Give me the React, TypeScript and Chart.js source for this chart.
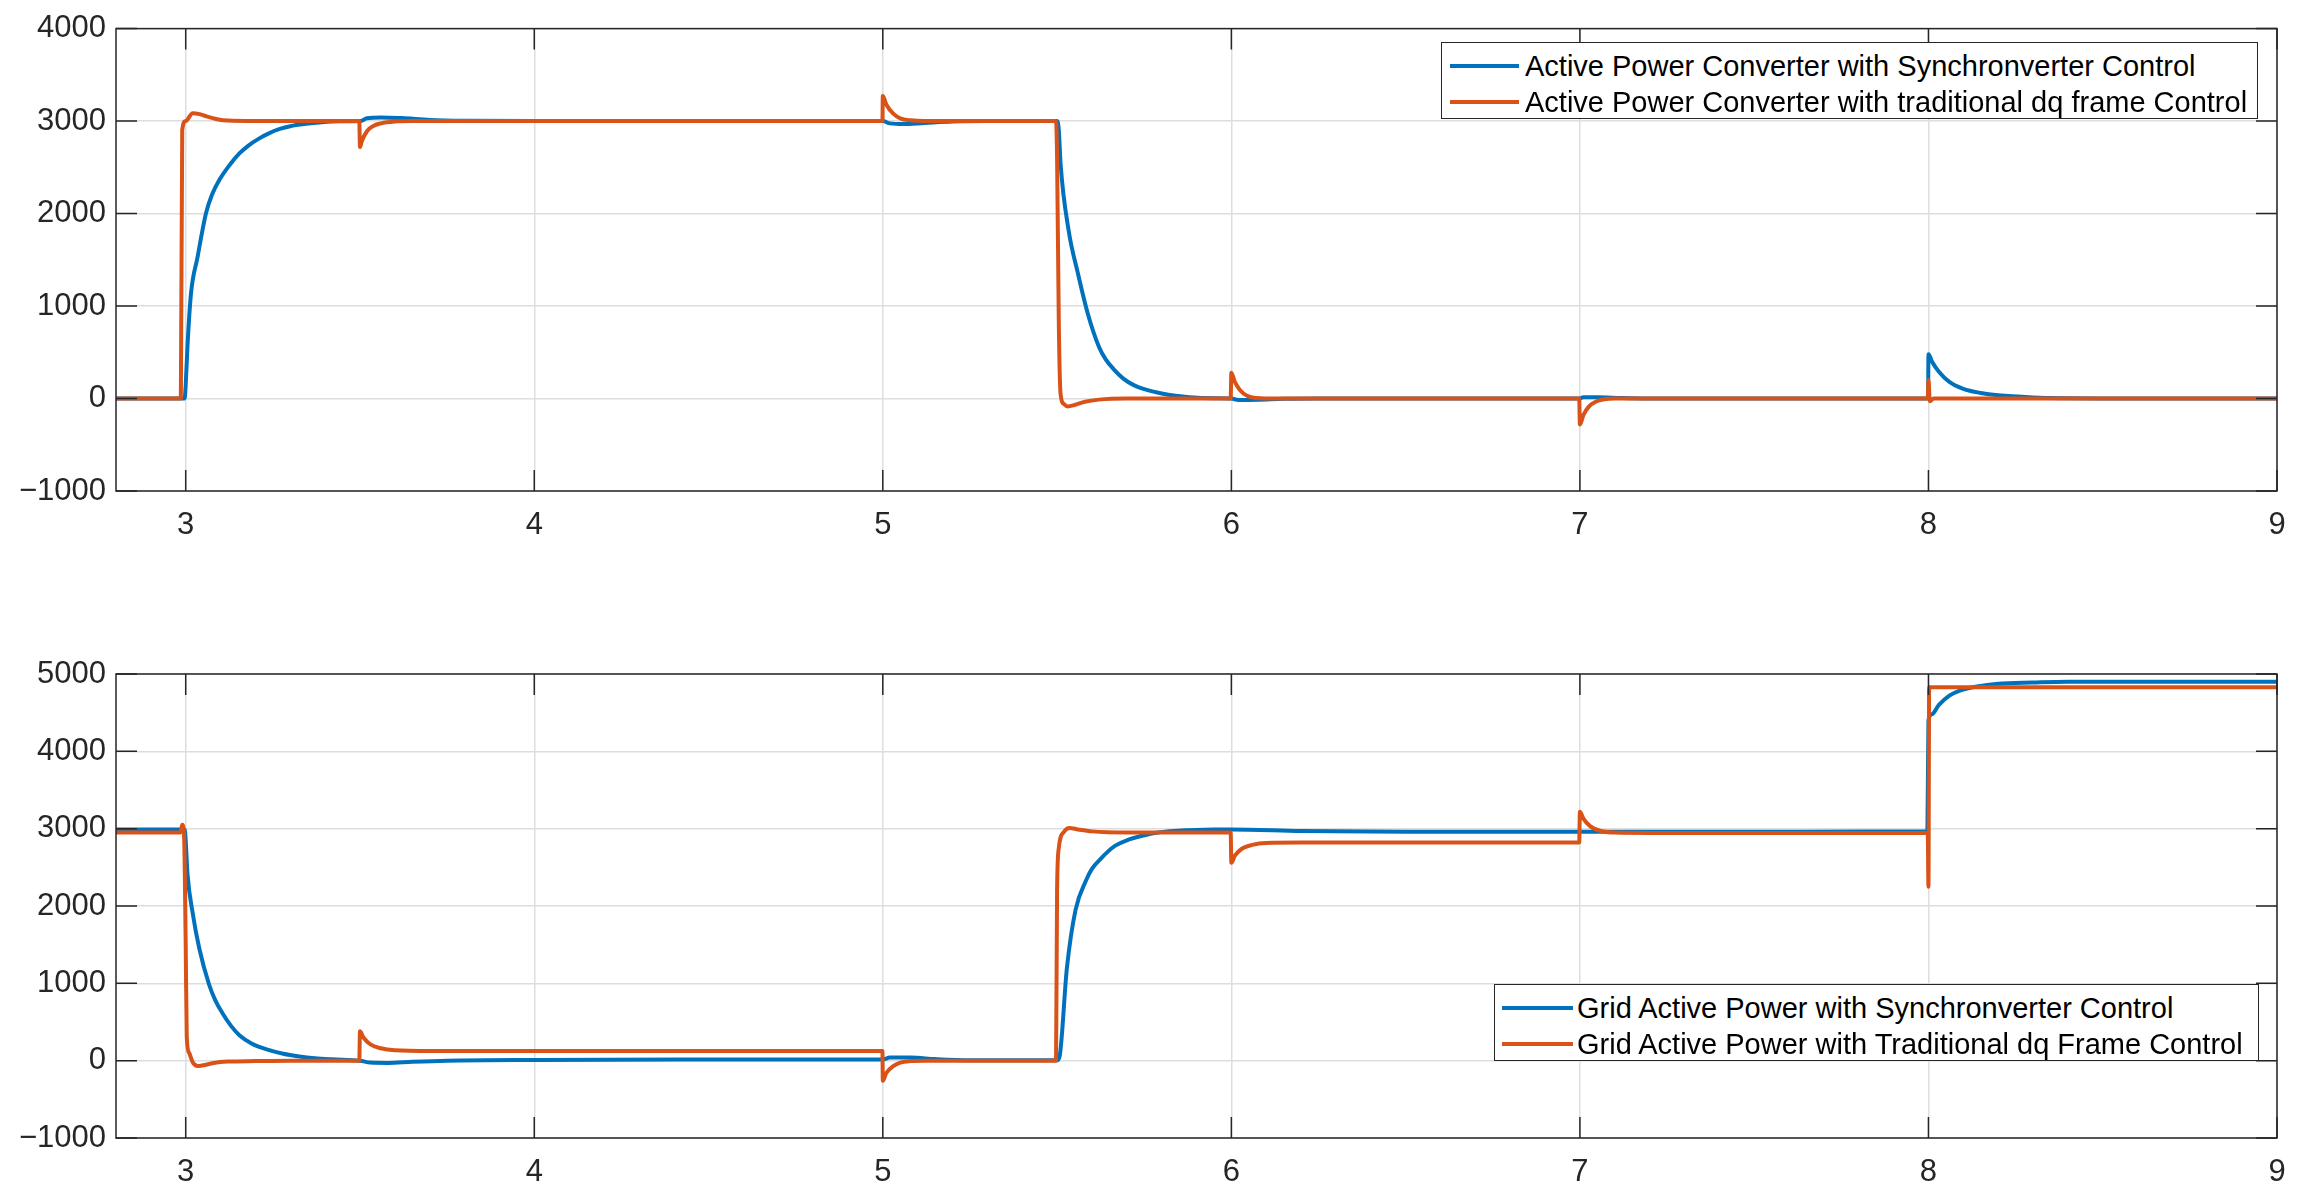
import React, { useEffect, useRef } from 'react';
import { Chart, registerables } from 'chart.js';

Chart.register(...registerables);

// ---------- data ----------
const xTicks = [3, 4, 5, 6, 7, 8, 9];
const topYTicks = [-1000, 0, 1000, 2000, 3000, 4000];
const bottomYTicks = [-1000, 0, 1000, 2000, 3000, 4000, 5000];

const topLabels = [
  'Active Power Converter with Synchronverter Control',
  'Active Power Converter with traditional dq frame Control',
];
const bottomLabels = [
  'Grid Active Power with Synchronverter Control',
  'Grid Active Power with Traditional dq Frame Control',
];

const seriesColors = ['#0072BD', '#D95319'];

// time [s], power [W]
const converterSync: [number, number][] = [
  [2.8, 0], [2.997, 0], [3.0, 150], [3.005, 560], [3.015, 1130], [3.034, 1530], [3.058, 2000],
  [3.075, 2200], [3.096, 2360], [3.125, 2520], [3.154, 2650], [3.18, 2735], [3.21, 2810],
  [3.24, 2870], [3.27, 2915], [3.3, 2945], [3.345, 2970], [3.39, 2987], [3.44, 2997], [3.5, 3000],
  [3.52, 3030], [3.56, 3040], [3.62, 3032], [3.7, 3012], [3.8, 3003], [4.0, 3000], [5.0, 3000],
  [5.02, 2975], [5.06, 2968], [5.12, 2980], [5.2, 2995], [5.3, 3000], [5.5, 3000], [5.505, 2900],
  [5.51, 2540], [5.533, 1820], [5.56, 1350], [5.588, 920], [5.62, 560], [5.64, 420], [5.664, 310],
  [5.69, 215], [5.72, 145], [5.76, 90], [5.8, 55], [5.84, 30], [5.88, 14], [5.95, 3], [6.0, 0],
  [6.02, -15], [6.08, -12], [6.15, -3], [6.25, 0], [7.0, 0], [7.01, 15], [7.05, 15], [7.12, 5],
  [7.2, 0], [7.999, 0], [8.0, 480], [8.01, 400], [8.03, 290], [8.06, 180], [8.1, 105], [8.15, 60],
  [8.2, 35], [8.3, 12], [8.4, 3], [8.5, 0], [9.0, 0],
];

const converterDq: [number, number][] = [
  [2.8, 0], [2.986, 0], [2.99, 2900], [3.0, 3000], [3.02, 3085], [3.04, 3075], [3.06, 3050],
  [3.09, 3020], [3.12, 3005], [3.2, 3000], [3.498, 3000], [3.5, 2720], [3.505, 2780], [3.52, 2890],
  [3.54, 2950], [3.56, 2975], [3.6, 2995], [3.65, 3000], [4.999, 3000], [5.0, 3270], [5.01, 3180],
  [5.03, 3080], [5.05, 3030], [5.08, 3008], [5.12, 3000], [5.497, 3000], [5.5, 2600], [5.505, 800],
  [5.51, 50], [5.52, -60], [5.53, -85], [5.55, -70], [5.58, -35], [5.62, -12], [5.7, 0], [5.998, 0],
  [6.0, 280], [6.01, 180], [6.025, 90], [6.045, 30], [6.07, 5], [6.1, 0], [6.998, 0], [7.0, -280],
  [7.01, -180], [7.025, -90], [7.045, -35], [7.07, -8], [7.1, 0], [7.998, 0], [8.0, 200],
  [8.004, -30], [8.015, 0], [9.0, 0],
];

const gridSync: [number, number][] = [
  [2.8, 2990], [2.997, 2990], [3.0, 2850], [3.005, 2420], [3.02, 1910], [3.039, 1450], [3.067, 985],
  [3.085, 780], [3.106, 610], [3.13, 450], [3.154, 330], [3.19, 220], [3.23, 150], [3.28, 90],
  [3.326, 55], [3.37, 32], [3.42, 17], [3.5, 0], [3.53, -25], [3.58, -30], [3.65, -15], [3.75, 0],
  [4.0, 10], [4.5, 15], [5.0, 15], [5.02, 40], [5.08, 40], [5.15, 20], [5.25, 5], [5.5, 5],
  [5.507, 50], [5.528, 1190], [5.553, 1950], [5.583, 2330], [5.6, 2480], [5.625, 2610],
  [5.645, 2700], [5.667, 2780], [5.7, 2850], [5.751, 2915], [5.79, 2950], [5.835, 2970],
  [5.95, 2990], [6.0, 2990], [6.2, 2970], [6.5, 2960], [7.0, 2960], [7.5, 2960], [7.997, 2965],
  [8.0, 4400], [8.01, 4480], [8.03, 4600], [8.06, 4720], [8.09, 4785], [8.14, 4840], [8.2, 4875],
  [8.3, 4890], [8.4, 4900], [9.0, 4900],
];

const gridDq: [number, number][] = [
  [2.8, 2950], [2.985, 2950], [2.99, 3050], [2.995, 2950], [3.0, 1500], [3.003, 300], [3.01, 100],
  [3.02, -20], [3.035, -70], [3.05, -60], [3.08, -30], [3.12, -12], [3.2, -5], [3.3, 0], [3.498, 0],
  [3.5, 380], [3.51, 300], [3.53, 210], [3.56, 160], [3.6, 135], [3.7, 125], [4.999, 125],
  [5.0, -260], [5.01, -160], [5.03, -70], [5.05, -25], [5.08, -5], [5.12, 0], [5.497, 0],
  [5.5, 2200], [5.505, 2750], [5.52, 2960], [5.535, 3010], [5.56, 2990], [5.6, 2965], [5.7, 2950],
  [5.998, 2950], [6.0, 2560], [6.01, 2650], [6.03, 2740], [6.06, 2790], [6.1, 2815], [6.2, 2820],
  [6.998, 2820], [7.0, 3220], [7.01, 3130], [7.03, 3030], [7.06, 2970], [7.1, 2950], [7.2, 2945],
  [7.998, 2945], [8.0, 2250], [8.002, 4830], [9.0, 4830],
];

// ---------- styling ----------
const FONT = '"Liberation Sans", Arial, Helvetica, sans-serif';
const AXIS_COLOR = '#262626';
const TICK_LEN = 21;

const fmt = (v: number) => (v < 0 ? '\u2212' + Math.abs(v) : String(v));

const frameTicks = {
  id: 'frameTicks',
  afterDatasetsDraw(chart: any) {
    const { ctx, chartArea: a, scales } = chart;
    const xs = scales.x;
    const ys = scales.y;
    ctx.save();
    ctx.strokeStyle = AXIS_COLOR;
    ctx.lineWidth = 1.5;
    ctx.beginPath();
    xs.ticks.forEach((t: any) => {
      const p = xs.getPixelForValue(t.value);
      ctx.moveTo(p, a.bottom);
      ctx.lineTo(p, a.bottom - TICK_LEN);
      ctx.moveTo(p, a.top);
      ctx.lineTo(p, a.top + TICK_LEN);
    });
    ys.ticks.forEach((t: any) => {
      const p = ys.getPixelForValue(t.value);
      ctx.moveTo(a.left, p);
      ctx.lineTo(a.left + TICK_LEN, p);
      ctx.moveTo(a.right, p);
      ctx.lineTo(a.right - TICK_LEN, p);
    });
    ctx.stroke();
    ctx.strokeRect(a.left, a.top, a.right - a.left, a.bottom - a.top);
    ctx.restore();
  },
};

type PanelProps = {
  canvasTop: number;
  canvasHeight: number;
  areaTop: number;
  areaBottom: number;
  yMin: number;
  yMax: number;
  yTicks: number[];
  series: [number, number][][];
  labels: string[];
};

function Panel(p: PanelProps) {
  const ref = useRef<HTMLCanvasElement | null>(null);
  useEffect(() => {
    if (!ref.current) return;
    const chart = new Chart(ref.current, {
      type: 'line',
      data: {
        datasets: p.series.map((s, i) => ({
          label: p.labels[i],
          data: s.map(([x, y]) => ({ x, y })),
          borderColor: seriesColors[i],
          backgroundColor: seriesColors[i],
          borderWidth: 4,
          pointRadius: 0,
          cubicInterpolationMode: 'monotone' as const,
          fill: false,
          borderJoinStyle: 'round' as const,
          order: 2 - i,
        })),
      },
      options: {
        animation: false,
        responsive: false,
        devicePixelRatio: 1,
        events: [],
        layout: { padding: { left: 0, right: 2302 - 2277, top: p.areaTop, bottom: 0 } },
        plugins: { legend: { display: false }, tooltip: { enabled: false } },
        scales: {
          x: {
            type: 'linear',
            min: 2.8,
            max: 9,
            afterBuildTicks: (s: any) => {
              s.ticks = xTicks.map((v) => ({ value: v }));
            },
            afterFit: (s: any) => {
              s.height = p.canvasHeight - p.areaBottom;
            },
            grid: { color: '#dedede', lineWidth: 1.5, drawTicks: false },
            border: { display: false },
            ticks: {
              padding: 16,
              maxRotation: 0,
              color: AXIS_COLOR,
              font: { family: FONT, size: 31 },
              callback: (v: any) => fmt(Number(v)),
            },
          },
          y: {
            type: 'linear',
            min: p.yMin,
            max: p.yMax,
            afterBuildTicks: (s: any) => {
              s.ticks = p.yTicks.map((v) => ({ value: v }));
            },
            afterFit: (s: any) => {
              s.width = 116;
            },
            grid: { color: '#dedede', lineWidth: 1.5, drawTicks: false },
            border: { display: false },
            ticks: {
              padding: 10,
              color: AXIS_COLOR,
              font: { family: FONT, size: 31 },
              callback: (v: any) => fmt(Number(v)),
            },
          },
        },
      },
      plugins: [frameTicks],
    } as any);
    return () => chart.destroy();
  }, []);
  return (
    <div style={{ position: 'absolute', left: 0, top: p.canvasTop, width: 2302, height: p.canvasHeight }}>
      <canvas ref={ref} width={2302} height={p.canvasHeight} style={{ display: 'block' }} />
    </div>
  );
}

type LegendProps = {
  left: number;
  top: number;
  width: number;
  height: number;
  sampleLeft: number;
  sampleWidth: number;
  textLeft: number;
  rowCenters: number[];
  labels: string[];
};

function Legend(l: LegendProps) {
  return (
    <div
      style={{
        position: 'absolute',
        left: l.left,
        top: l.top,
        width: l.width,
        height: l.height,
        boxSizing: 'border-box',
        border: `1.5px solid ${AXIS_COLOR}`,
        background: '#fff',
        fontFamily: FONT,
        fontSize: 29,
        color: '#000',
      }}
    >
      {l.labels.map((lab, i) => (
        <React.Fragment key={i}>
          <div
            style={{
              position: 'absolute',
              left: l.sampleLeft,
              top: l.rowCenters[i] - 2,
              width: l.sampleWidth,
              height: 4,
              background: seriesColors[i],
            }}
          />
          <div
            style={{
              position: 'absolute',
              left: l.textLeft,
              top: l.rowCenters[i] - 18,
              height: 36,
              lineHeight: '36px',
              whiteSpace: 'nowrap',
            }}
          >
            {lab}
          </div>
        </React.Fragment>
      ))}
    </div>
  );
}

export default function App() {
  return (
    <div style={{ position: 'absolute', left: 0, top: 0, width: 2302, height: 1203, background: '#fff', overflow: 'hidden' }}>
      <Panel
        canvasTop={0}
        canvasHeight={601}
        areaTop={28}
        areaBottom={491}
        yMin={-1000}
        yMax={4000}
        yTicks={topYTicks}
        series={[converterSync, converterDq]}
        labels={topLabels}
      />
      <Panel
        canvasTop={601}
        canvasHeight={602}
        areaTop={73}
        areaBottom={537}
        yMin={-1000}
        yMax={5000}
        yTicks={bottomYTicks}
        series={[gridSync, gridDq]}
        labels={bottomLabels}
      />
      <Legend
        left={1441}
        top={42}
        width={817}
        height={77}
        sampleLeft={8}
        sampleWidth={69}
        textLeft={83}
        rowCenters={[23, 59]}
        labels={topLabels}
      />
      <Legend
        left={1494}
        top={984}
        width={765}
        height={77}
        sampleLeft={7}
        sampleWidth={71}
        textLeft={82}
        rowCenters={[23, 59]}
        labels={bottomLabels}
      />
    </div>
  );
}
